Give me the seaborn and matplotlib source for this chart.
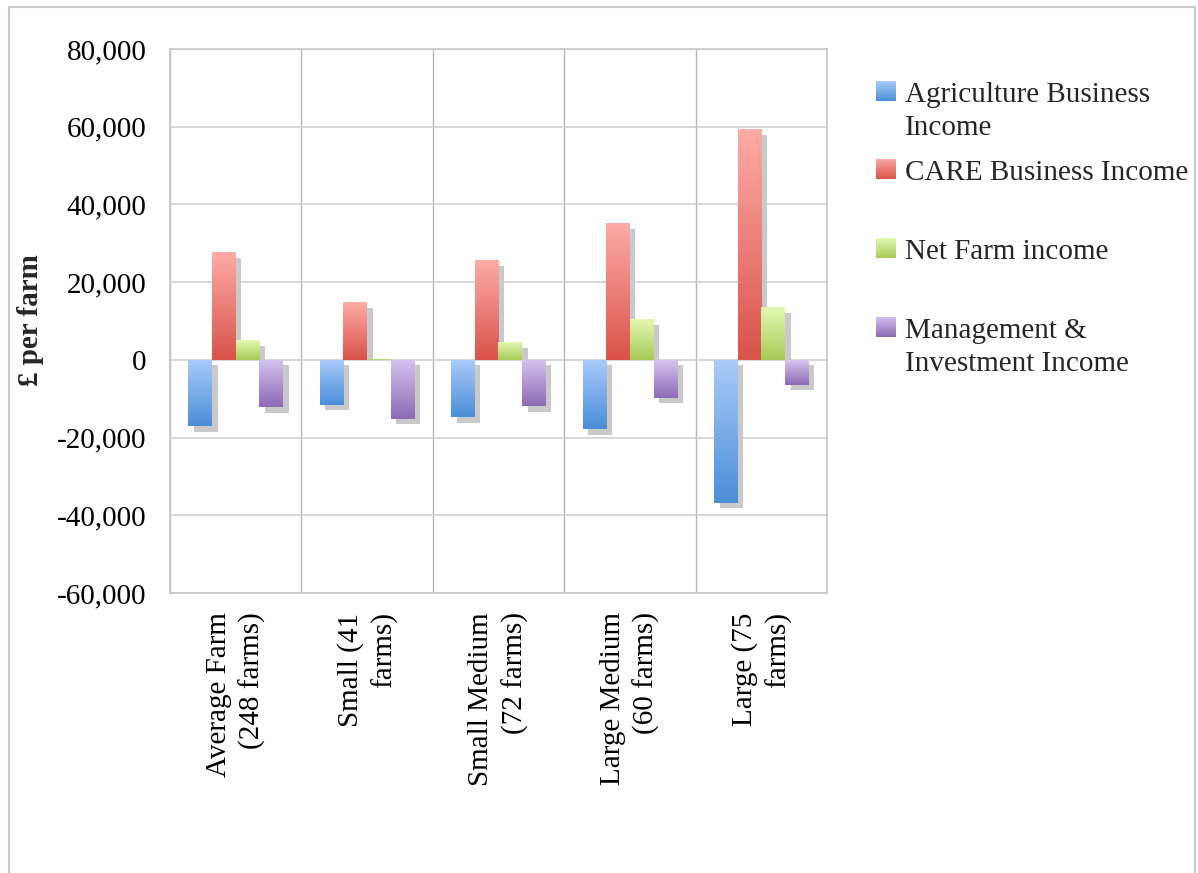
import numpy as np
import pandas as pd
import matplotlib
matplotlib.use("Agg")
import matplotlib.pyplot as plt
import seaborn as sns
from matplotlib.colors import LinearSegmentedColormap
from matplotlib.patches import Rectangle
from matplotlib.ticker import FuncFormatter, MultipleLocator
from matplotlib.transforms import ScaledTranslation

# ---- data -------------------------------------------------------------
categories = [
    "Average Farm\n(248 farms)",
    "Small (41\nfarms)",
    "Small Medium\n(72 farms)",
    "Large Medium\n(60 farms)",
    "Large (75\nfarms)",
]
series = [
    "Agriculture Business Income",
    "CARE Business Income",
    "Net Farm income",
    "Management & Investment Income",
]
legend_lines = [
    ["Agriculture Business", "Income"],
    ["CARE Business Income"],
    ["Net Farm income"],
    ["Management &", "Investment Income"],
]
agriculture = [-17100, -11600, -14700, -17800, -36800]
care = [27700, 14800, 25600, 35200, 59400]
net_farm = [5000, 300, 4600, 10400, 13500]
management = [-12200, -15200, -12000, -9700, -6400]

# gradient end colours per series (top -> bottom)
light = ["#aacbfa", "#fdaba6", "#e3f8b2", "#d5c4ef"]
dark = ["#4a8ed8", "#d9534a", "#a7cb58", "#8c6ab5"]

values = [agriculture, care, net_farm, management]
df = pd.DataFrame(
    [(c, s, v) for s, vals in zip(series, values) for c, v in zip(categories, vals)],
    columns=["Farm", "Series", "Income"],
)

# ---- style ------------------------------------------------------------
sns.set_style("white")
plt.rcParams["font.family"] = ["Liberation Serif", "DejaVu Serif"]
FS = 21

fig = plt.figure(figsize=(11.98, 8.73), dpi=100)
W, H = 1198, 873
ax = fig.add_axes([170 / W, 1 - 593 / H, (827 - 170) / W, (593 - 49) / H])

sns.barplot(
    data=df, x="Farm", y="Income", hue="Series",
    order=categories, hue_order=series,
    palette=dict(zip(series, dark)), saturation=1,
    width=0.72, gap=0, errorbar=None, legend=False, ax=ax,
    linewidth=0,
)

# drop shadows (offset down-right, cut at the zero line for positive bars)
shadow_off = ScaledTranslation(4 / 72, -4 / 72, fig.dpi_scale_trans)
above_zero = Rectangle((-10, 0), 20, 1e7, transform=ax.transData)

grad = np.linspace(0, 1, 256).reshape(-1, 1)
for idx, container in enumerate(ax.containers):
    cmap = LinearSegmentedColormap.from_list(f"g{idx}", [light[idx], dark[idx]])
    for p in container.patches:
        x0, w = p.get_x(), p.get_width()
        y0, h = p.get_y(), p.get_height()
        sh = Rectangle((x0, y0), w, h, transform=ax.transData + shadow_off,
                       facecolor="#c9c9c9", edgecolor="none",
                       zorder=p.get_zorder() - 0.05)
        ax.add_patch(sh)
        if h > 0:
            sh.set_clip_path(above_zero)
        lo, hi = min(y0, y0 + h), max(y0, y0 + h)
        if hi - lo <= 0:
            continue
        im = ax.imshow(grad, cmap=cmap, aspect="auto", extent=(x0, x0 + w, lo, hi),
                       origin="upper", zorder=p.get_zorder() + 0.5,
                       interpolation="bilinear")
        im.set_clip_path(p)

ax.set_xlim(-0.5, len(categories) - 0.5)
ax.set_ylim(-60000, 80000)
ax.yaxis.set_major_locator(MultipleLocator(20000))
ax.yaxis.set_major_formatter(FuncFormatter(lambda v, _: f"{v:,.0f}"))

# grid: horizontal at ticks, vertical between categories
ax.set_axisbelow(True)
ax.set_xticks(np.arange(-0.5, len(categories)), minor=True)
ax.yaxis.grid(True, color="#cdcdcd", lw=1.1)
ax.xaxis.grid(True, which="minor", color="#b5b5b5", lw=1.0)
ax.xaxis.grid(False, which="major")
for s in ax.spines.values():
    s.set_color("#c4c4c4")
    s.set_linewidth(1.1)

ax.set_xticks(range(len(categories)))
ax.set_xticklabels(categories, rotation=90, ha="center", va="top",
                   multialignment="right", linespacing=1.32)
ax.tick_params(axis="x", which="both", length=0, pad=14, labelsize=FS, colors="black")
ax.tick_params(axis="y", length=6.5, width=1.1, color="#c4c4c4", pad=10.5,
               labelsize=FS, labelcolor="black")
ax.set_xlabel("")
ax.set_ylabel("")

fig.text(30 / W, 1 - 320 / H, "£ per farm", rotation=90, ha="center", va="center",
         fontsize=FS, fontweight="bold")

# ---- legend -----------------------------------------------------------
swatch_tops = [81, 159, 238, 317]
first_baselines = [102, 180, 259, 338]
line_step = 33
for i in range(len(series)):
    sax = fig.add_axes([876 / W, 1 - (swatch_tops[i] + 20) / H, 20 / W, 20 / H])
    cmap = LinearSegmentedColormap.from_list(f"l{i}", [light[i], dark[i]])
    sax.imshow(grad, cmap=cmap, aspect="auto", interpolation="bilinear")
    sax.set_axis_off()
    for j, line in enumerate(legend_lines[i]):
        fig.text(905 / W, 1 - (first_baselines[i] + j * line_step) / H, line,
                 ha="left", va="baseline", fontsize=FS)

# outer chart frame
fig.add_artist(Rectangle((8.5 / W, -0.05), (1195 - 8.5) / W, 1.05 - 7 / H,
                         transform=fig.transFigure, fill=False,
                         ec="#c8c8c8", lw=1.5))

fig.savefig("out.png", dpi=100)
